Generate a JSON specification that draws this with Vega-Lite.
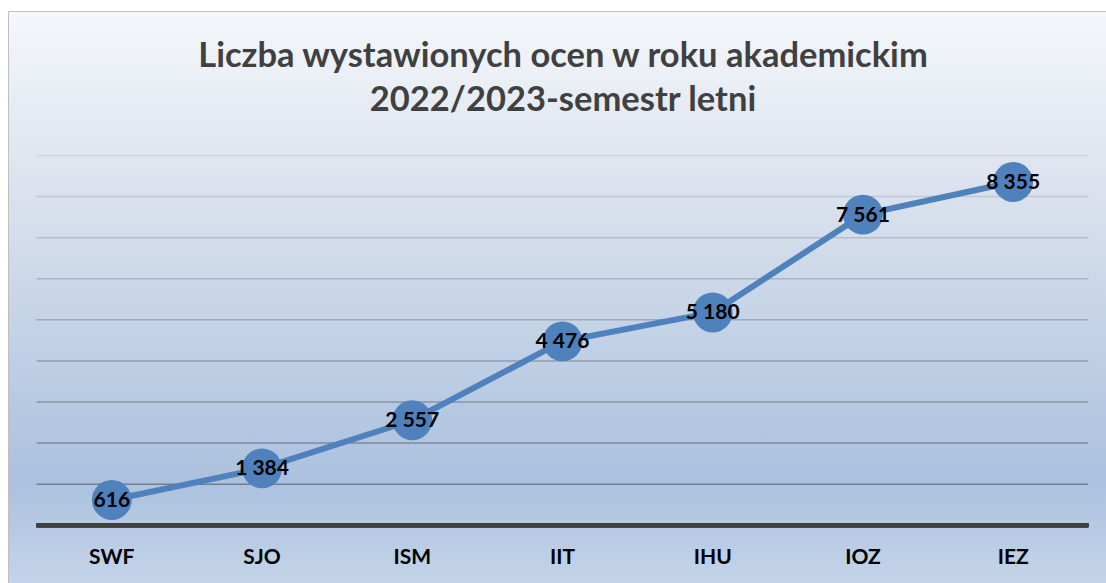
{
  "$schema": "https://vega.github.io/schema/vega-lite/v6.json",
  "autosize": {"type": "none"},
  "padding": {"left": 8, "top": 11, "right": 0, "bottom": 0},
  "width": 1098,
  "height": 572,
  "background": "#ffffff",
  "view": {
    "stroke": "#bfbfbf",
    "strokeWidth": 1,
    "fill": {
      "gradient": "linear",
      "x1": 0, "y1": 0, "x2": 0, "y2": 1,
      "stops": [
        {"offset": 0, "color": "#f4f7fb"},
        {"offset": 0.3, "color": "#dce3ee"},
        {"offset": 0.82, "color": "#abc1de"},
        {"offset": 1, "color": "#c4d4e9"}
      ]
    }
  },
  "config": {
    "locale": {"number": {"decimal": ",", "thousands": " ", "grouping": [3], "currency": ["", " zł"]}},
    "font": "Lato"
  },
  "title": {
    "text": ["Liczba wystawionych ocen w roku akademickim", "2022/2023-semestr letni"],
    "font": "Lato",
    "fontSize": 34.5,
    "fontWeight": "bold",
    "color": "#404040",
    "lineHeight": 44,
    "anchor": "middle",
    "frame": "group",
    "orient": "top",
    "baseline": "alphabetic",
    "offset": -134,
    "dx": 6
  },
  "datasets": {
    "grid": [
      {"v": 1000}, {"v": 2000}, {"v": 3000}, {"v": 4000}, {"v": 5000},
      {"v": 6000}, {"v": 7000}, {"v": 8000}, {"v": 9000}
    ],
    "main": [
      {"kat": "SWF", "val": 616},
      {"kat": "SJO", "val": 1384},
      {"kat": "ISM", "val": 2557},
      {"kat": "IIT", "val": 4476},
      {"kat": "IHU", "val": 5180},
      {"kat": "IOZ", "val": 7561},
      {"kat": "IEZ", "val": 8355}
    ]
  },
  "encoding": {
    "y": {
      "type": "quantitative",
      "scale": {"domain": [-1404.2, 12516.7], "nice": false, "zero": false},
      "axis": null
    }
  },
  "resolve": {"scale": {"x": "shared", "y": "shared"}},
  "layer": [
    {
      "data": {"name": "grid"},
      "mark": {"type": "rule", "strokeWidth": 1.5},
      "encoding": {
        "y": {"field": "v", "type": "quantitative"},
        "x": {"datum": "SWF", "type": "nominal", "bandPosition": 0,
          "scale": {"type": "band", "domain": ["SWF", "SJO", "ISM", "IIT", "IHU", "IOZ", "IEZ"], "paddingInner": 0, "paddingOuter": 0.1544, "align": 0.6185},
          "axis": {
            "title": null, "orient": "bottom", "offset": -57.7, "domain": false, "ticks": false, "tickSize": 0, "grid": false,
            "labelFont": "Lato", "labelFontSize": 21, "labelFontWeight": "bold", "labelColor": "#000000",
            "labelBaseline": "alphabetic", "labelPadding": 38, "labelAngle": 0
          }
        },
        "x2": {"datum": "IEZ", "bandPosition": 1},
        "color": {"field": "v", "type": "quantitative", "scale": {"domain": [1000, 9000], "range": ["#717f92", "#cdd3dd"]}, "legend": null}
      }
    },
    {
      "data": {"name": "grid"},
      "mark": {"type": "rule", "strokeWidth": 4, "color": "#404040"},
      "encoding": {
        "y": {"datum": 0, "type": "quantitative"},
        "x": {"datum": "SWF", "type": "nominal", "bandPosition": 0},
        "x2": {"datum": "IEZ", "bandPosition": 1}
      }
    },
    {
      "data": {"name": "main"},
      "mark": {"type": "line", "color": "#4f81bd", "strokeWidth": 6},
      "encoding": {
        "x": {"field": "kat", "type": "nominal", "sort": null},
        "y": {"field": "val", "type": "quantitative"}
      }
    },
    {
      "data": {"name": "main"},
      "mark": {"type": "point", "filled": true, "opacity": 1, "color": "#4f81bd", "size": 1590},
      "encoding": {
        "x": {"field": "kat", "type": "nominal", "sort": null},
        "y": {"field": "val", "type": "quantitative"}
      }
    },
    {
      "data": {"name": "main"},
      "mark": {"type": "text", "font": "Lato", "fontSize": 21, "fontWeight": "bold", "color": "#000000", "baseline": "middle", "align": "center", "dy": 1},
      "encoding": {
        "x": {"field": "kat", "type": "nominal", "sort": null},
        "y": {"field": "val", "type": "quantitative"},
        "text": {"field": "val", "type": "quantitative", "format": ",d"}
      }
    }
  ]
}
